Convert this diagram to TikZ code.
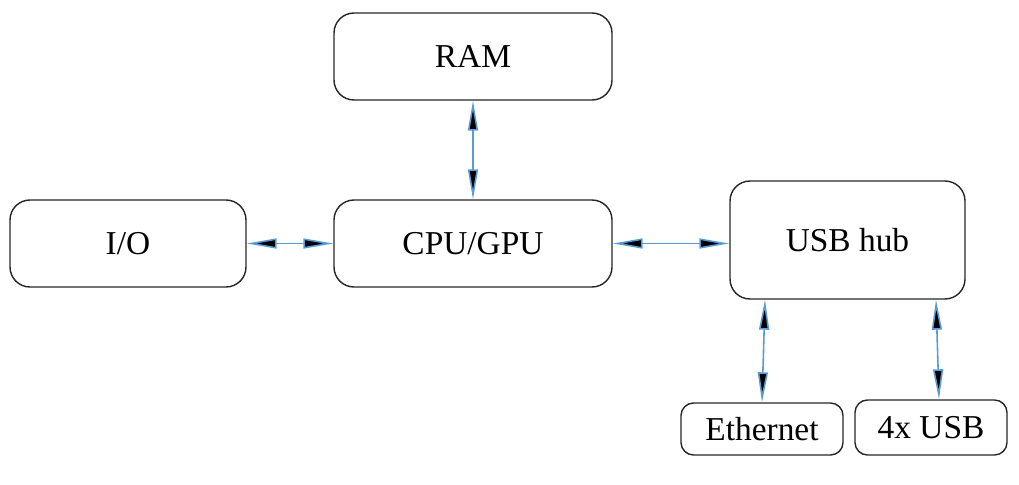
\documentclass[tikz,border=0pt]{standalone}
\usepackage{fontspec}
\setmainfont{Liberation Serif}
\usepackage{tikz}
\usetikzlibrary{arrows.meta}
\tikzset{>={Triangle[width=2mm,length=6mm,fill=black]}}
\definecolor{linkblue}{RGB}{91,155,213}
\tikzset{
  block/.style={draw=black!85, line width=0.8pt, rounded corners=0.4cm,
    font=\fontsize{19}{21}\selectfont},
  smallblock/.style={draw=black!85, line width=0.8pt, rounded corners=0.25cm,
    font=\fontsize{19}{21}\selectfont},
  link/.style={<->, draw=linkblue, line width=0.9pt}
}

\begin{document}
\begin{tikzpicture}
  \useasboundingbox (0,0) rectangle (20.38,-9.70);

  \node[block, minimum width=5.56cm, minimum height=1.74cm] (RAM) at (9.46,-1.13) {RAM};
  \node[block, minimum width=4.72cm, minimum height=1.74cm] (IO) at (2.56,-4.87) {I/O};
  \node[block, minimum width=5.56cm, minimum height=1.74cm] (CPU) at (9.46,-4.87) {CPU/GPU};
  \node[block, minimum width=4.70cm, minimum height=2.36cm] (HUB) at (16.95,-4.80) {USB hub};
  \node[smallblock, minimum width=3.24cm, minimum height=1.04cm] (ETH) at (15.24,-8.58) {Ethernet};
  \node[smallblock, minimum width=3.04cm, minimum height=1.10cm] (USB) at (18.62,-8.55) {4x USB};

  \draw[link] (RAM) -- (CPU);
  \draw[link] (IO) -- (CPU);
  \draw[link] (CPU) -- (CPU -| HUB.west);
  \draw[link] ([xshift=0.06cm]ETH.north |- HUB.south) -- (ETH.north);
  \draw[link] ([xshift=0.10cm]USB.north |- HUB.south) -- ([xshift=0.16cm]USB.north);
\end{tikzpicture}
\end{document}
